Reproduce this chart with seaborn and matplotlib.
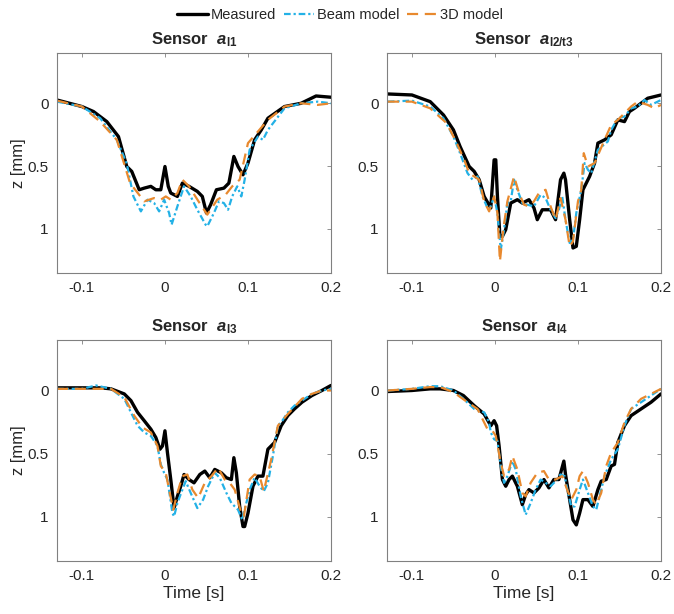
import matplotlib
matplotlib.use("Agg")
import matplotlib.pyplot as plt
import seaborn as sns

# ── Sensor l1 ────────────────────────────────────────────────────────────────
l1_meas_t = [-0.130, -0.100, -0.086, -0.070, -0.056, -0.046, -0.040, -0.031, -0.025, -0.017,
             -0.011, -0.005, 0.000, 0.004, 0.007, 0.015, 0.021, 0.029, 0.039, 0.045,
             0.050, 0.055, 0.062, 0.071, 0.077, 0.083, 0.088, 0.094, 0.100, 0.108,
             0.116, 0.124, 0.144, 0.164, 0.182, 0.200]
l1_meas_z = [-0.026, 0.026, 0.066, 0.146, 0.265, 0.503, 0.542, 0.688, 0.675, 0.661,
             0.688, 0.688, 0.503, 0.661, 0.714, 0.741, 0.635, 0.661, 0.701, 0.741,
             0.873, 0.807, 0.688, 0.675, 0.635, 0.423, 0.503, 0.569, 0.476, 0.291,
             0.212, 0.119, 0.026, 0.000, -0.058, -0.048]
l1_beam_t = [-0.130, -0.100, -0.078, -0.058, -0.046, -0.038, -0.029, -0.021, -0.013, -0.007,
             -0.001, 0.005, 0.008, 0.015, 0.023, 0.031, 0.039, 0.049, 0.051, 0.059,
             0.065, 0.071, 0.076, 0.081, 0.087, 0.092, 0.096, 0.102, 0.112, 0.118,
             0.124, 0.144, 0.164, 0.184, 0.200]
l1_beam_z = [-0.013, 0.026, 0.119, 0.291, 0.480, 0.741, 0.860, 0.767, 0.794, 0.860,
             0.767, 0.873, 0.966, 0.820, 0.661, 0.741, 0.847, 0.966, 0.979, 0.873,
             0.780, 0.794, 0.847, 0.741, 0.661, 0.741, 0.608, 0.370, 0.265, 0.291,
             0.212, 0.040, 0.000, -0.013, 0.000]
l1_3d_t = [-0.130, -0.100, -0.078, -0.058, -0.042, -0.025, -0.013, -0.005, 0.001, 0.007,
           0.015, 0.021, 0.029, 0.043, 0.051, 0.063, 0.073, 0.081, 0.090, 0.100,
           0.112, 0.124, 0.144, 0.164, 0.184, 0.200]
l1_3d_z = [-0.021, 0.026, 0.146, 0.291, 0.635, 0.780, 0.754, 0.767, 0.741, 0.767,
           0.714, 0.608, 0.661, 0.807, 0.886, 0.767, 0.728, 0.661, 0.608, 0.317,
           0.225, 0.132, 0.026, 0.000, 0.013, 0.000]

# ── Sensor l2/t3 ─────────────────────────────────────────────────────────────
l2_meas_t = [-0.129, -0.100, -0.078, -0.062, -0.050, -0.042, -0.031, -0.025, -0.019, -0.013,
             -0.005, -0.001, 0.001, 0.003, 0.006, 0.009, 0.013, 0.019, 0.027, 0.033,
             0.041, 0.047, 0.051, 0.057, 0.067, 0.073, 0.079, 0.083, 0.085, 0.090,
             0.094, 0.098, 0.102, 0.106, 0.114, 0.120, 0.124, 0.132, 0.140, 0.148,
             0.156, 0.162, 0.168, 0.176, 0.184, 0.200]
l2_meas_z = [-0.074, -0.066, -0.013, 0.093, 0.212, 0.344, 0.503, 0.542, 0.608, 0.741,
             0.833, 0.450, 0.450, 0.741, 1.058, 1.058, 1.005, 0.794, 0.767, 0.794,
             0.767, 0.833, 0.926, 0.847, 0.847, 0.926, 0.608, 0.556, 0.608, 0.926,
             1.151, 1.138, 0.926, 0.688, 0.582, 0.476, 0.317, 0.291, 0.251, 0.132,
             0.146, 0.066, 0.040, 0.000, -0.040, -0.066]
l2_beam_t = [-0.129, -0.100, -0.078, -0.062, -0.050, -0.042, -0.033, -0.027, -0.021, -0.015,
             -0.009, -0.005, -0.001, 0.003, 0.007, 0.011, 0.015, 0.019, 0.023, 0.027,
             0.033, 0.039, 0.047, 0.055, 0.061, 0.067, 0.073, 0.077, 0.081, 0.085,
             0.090, 0.094, 0.098, 0.104, 0.108, 0.112, 0.116, 0.124, 0.136, 0.140,
             0.148, 0.156, 0.164, 0.172, 0.180, 0.188, 0.200]
l2_beam_z = [-0.013, -0.021, 0.026, 0.119, 0.265, 0.397, 0.556, 0.608, 0.582, 0.741,
             0.833, 0.820, 0.741, 0.873, 1.164, 1.005, 0.794, 0.780, 0.608, 0.688,
             0.794, 0.807, 0.820, 0.728, 0.754, 0.847, 0.913, 0.847, 0.741, 0.926,
             1.111, 1.085, 0.873, 0.688, 0.476, 0.529, 0.556, 0.370, 0.304, 0.212,
             0.119, 0.106, 0.040, 0.026, -0.026, 0.013, -0.026]
l2_3d_t = [-0.129, -0.100, -0.078, -0.058, -0.046, -0.037, -0.031, -0.025, -0.019, -0.013,
           -0.007, -0.001, 0.003, 0.006, 0.010, 0.015, 0.023, 0.029, 0.035, 0.041,
           0.047, 0.053, 0.061, 0.067, 0.073, 0.079, 0.085, 0.090, 0.094, 0.100,
           0.104, 0.107, 0.112, 0.120, 0.132, 0.140, 0.148, 0.156, 0.164, 0.172,
           0.184, 0.192, 0.200]
l2_3d_z = [-0.013, -0.013, 0.040, 0.159, 0.317, 0.450, 0.556, 0.582, 0.608, 0.780,
           0.860, 0.741, 0.873, 1.257, 1.005, 0.780, 0.582, 0.714, 0.807, 0.820,
           0.780, 0.714, 0.688, 0.820, 0.926, 0.754, 0.926, 1.138, 1.098, 0.780,
           0.688, 0.397, 0.503, 0.476, 0.291, 0.172, 0.132, 0.080, 0.026, -0.013,
           0.013, 0.040, 0.013]

# ── Sensor l3 ────────────────────────────────────────────────────────────────
l3_meas_t = [-0.130, -0.100, -0.077, -0.065, -0.049, -0.041, -0.033, -0.025, -0.017, -0.011,
             -0.006, -0.003, 0.000, 0.003, 0.007, 0.011, 0.015, 0.019, 0.023, 0.029,
             0.035, 0.042, 0.048, 0.054, 0.060, 0.068, 0.074, 0.080, 0.083, 0.086,
             0.090, 0.094, 0.096, 0.100, 0.106, 0.112, 0.118, 0.124, 0.132, 0.140,
             0.148, 0.156, 0.165, 0.177, 0.189, 0.200]
l3_meas_z = [-0.021, -0.021, -0.021, -0.013, 0.027, 0.080, 0.173, 0.239, 0.306, 0.372,
             0.465, 0.439, 0.319, 0.492, 0.705, 0.931, 0.838, 0.758, 0.665, 0.705,
             0.731, 0.665, 0.638, 0.691, 0.625, 0.652, 0.691, 0.705, 0.532, 0.652,
             0.918, 1.077, 1.077, 0.971, 0.758, 0.678, 0.678, 0.465, 0.412, 0.279,
             0.199, 0.146, 0.093, 0.040, 0.000, -0.040]
l3_beam_t = [-0.130, -0.100, -0.083, -0.065, -0.049, -0.041, -0.033, -0.025, -0.017, -0.009,
             -0.005, -0.001, 0.003, 0.009, 0.011, 0.015, 0.021, 0.025, 0.031, 0.039,
             0.046, 0.052, 0.060, 0.066, 0.074, 0.080, 0.088, 0.093, 0.096, 0.102,
             0.108, 0.114, 0.119, 0.124, 0.130, 0.136, 0.140, 0.148, 0.156, 0.165,
             0.177, 0.189, 0.200]
l3_beam_z = [-0.013, -0.013, -0.040, -0.013, 0.066, 0.173, 0.279, 0.332, 0.359, 0.439,
             0.585, 0.652, 0.705, 0.971, 0.997, 0.891, 0.785, 0.718, 0.811, 0.931,
             0.864, 0.758, 0.652, 0.691, 0.811, 0.891, 0.944, 1.024, 0.944, 0.785,
             0.691, 0.758, 0.798, 0.731, 0.519, 0.279, 0.253, 0.173, 0.120, 0.080,
             0.027, 0.000, -0.013]
l3_3d_t = [-0.130, -0.100, -0.077, -0.065, -0.049, -0.037, -0.027, -0.017, -0.009, -0.005,
           0.001, 0.005, 0.010, 0.015, 0.021, 0.027, 0.033, 0.040, 0.048, 0.056,
           0.064, 0.072, 0.078, 0.084, 0.092, 0.095, 0.102, 0.108, 0.114, 0.119,
           0.128, 0.136, 0.148, 0.165, 0.177, 0.189, 0.200]
l3_3d_z = [-0.013, -0.013, -0.013, -0.013, 0.053, 0.199, 0.293, 0.332, 0.439, 0.598,
           0.652, 0.785, 0.944, 0.811, 0.678, 0.665, 0.785, 0.851, 0.731, 0.678,
           0.612, 0.705, 0.731, 0.785, 0.971, 0.998, 0.705, 0.665, 0.678, 0.798,
           0.545, 0.279, 0.186, 0.066, 0.027, 0.000, 0.000]

# ── Sensor l4 ────────────────────────────────────────────────────────────────
l4_meas_t = [-0.129, -0.100, -0.078, -0.066, -0.050, -0.038, -0.025, -0.013, -0.005, -0.001,
             0.002, 0.005, 0.009, 0.013, 0.017, 0.021, 0.027, 0.033, 0.037, 0.041,
             0.047, 0.053, 0.059, 0.065, 0.071, 0.077, 0.083, 0.085, 0.090, 0.094,
             0.098, 0.102, 0.106, 0.112, 0.118, 0.124, 0.128, 0.134, 0.140, 0.144,
             0.148, 0.156, 0.164, 0.176, 0.188, 0.200]
l4_meas_z = [0.008, 0.000, -0.013, -0.013, 0.000, 0.040, 0.120, 0.186, 0.279, 0.239,
             0.279, 0.439, 0.705, 0.758, 0.705, 0.678, 0.758, 0.904, 0.824, 0.785,
             0.811, 0.771, 0.705, 0.771, 0.705, 0.705, 0.559, 0.665, 0.864, 1.024,
             1.064, 0.971, 0.864, 0.864, 0.918, 0.785, 0.718, 0.705, 0.598, 0.585,
             0.412, 0.279, 0.199, 0.146, 0.093, 0.027]
l4_beam_t = [-0.129, -0.100, -0.078, -0.066, -0.050, -0.038, -0.025, -0.013, -0.007, -0.005,
             -0.001, 0.003, 0.007, 0.011, 0.015, 0.021, 0.025, 0.031, 0.037, 0.043,
             0.049, 0.055, 0.061, 0.067, 0.073, 0.079, 0.084, 0.088, 0.092, 0.096,
             0.102, 0.106, 0.112, 0.118, 0.122, 0.126, 0.132, 0.140, 0.148, 0.156,
             0.164, 0.176, 0.188, 0.200]
l4_beam_z = [0.000, -0.013, -0.034, -0.034, 0.000, 0.066, 0.146, 0.173, 0.253, 0.332,
             0.386, 0.399, 0.598, 0.731, 0.678, 0.559, 0.625, 0.838, 0.984, 0.891,
             0.785, 0.705, 0.731, 0.758, 0.718, 0.665, 0.678, 0.811, 0.918, 0.918,
             0.785, 0.705, 0.811, 0.918, 0.944, 0.838, 0.678, 0.545, 0.465, 0.279,
             0.146, 0.093, 0.040, -0.013]
l4_3d_t = [-0.129, -0.100, -0.078, -0.066, -0.050, -0.033, -0.021, -0.009, -0.003, 0.001,
           0.007, 0.011, 0.017, 0.021, 0.027, 0.033, 0.037, 0.043, 0.051, 0.059,
           0.065, 0.073, 0.081, 0.087, 0.092, 0.098, 0.102, 0.106, 0.112, 0.118,
           0.122, 0.128, 0.134, 0.140, 0.148, 0.156, 0.164, 0.176, 0.188, 0.200]
l4_3d_z = [0.000, -0.013, -0.027, -0.027, 0.013, 0.093, 0.146, 0.306, 0.319, 0.359,
           0.572, 0.678, 0.625, 0.519, 0.625, 0.811, 0.838, 0.731, 0.652, 0.638,
           0.705, 0.705, 0.678, 0.785, 0.864, 0.785, 0.678, 0.638, 0.731, 0.864,
           0.904, 0.811, 0.598, 0.492, 0.412, 0.253, 0.146, 0.066, 0.027, -0.013]

sensor_titles = [r"Sensor  $\mathbfit{a}_{\mathbf{l1}}$",
                 r"Sensor  $\mathbfit{a}_{\mathbf{l2/t3}}$",
                 r"Sensor  $\mathbfit{a}_{\mathbf{l3}}$",
                 r"Sensor  $\mathbfit{a}_{\mathbf{l4}}$"]
series_labels = ["Measured", "Beam model", "3D model"]
x_ticks = [-0.1, 0, 0.1, 0.2]
x_ticklabels = ["-0.1", "0", "0.1", "0.2"]
y_ticks = [0, 0.5, 1]
y_ticklabels = ["0", "0.5", "1"]

panels = [
    (l1_meas_t, l1_meas_z, l1_beam_t, l1_beam_z, l1_3d_t, l1_3d_z),
    (l2_meas_t, l2_meas_z, l2_beam_t, l2_beam_z, l2_3d_t, l2_3d_z),
    (l3_meas_t, l3_meas_z, l3_beam_t, l3_beam_z, l3_3d_t, l3_3d_z),
    (l4_meas_t, l4_meas_z, l4_beam_t, l4_beam_z, l4_3d_t, l4_3d_z),
]

sns.set_style("white")
plt.rcParams["font.family"] = ["Liberation Sans", "DejaVu Sans"]
plt.rcParams["mathtext.fontset"] = "custom"
plt.rcParams["mathtext.rm"] = "Liberation Sans"
plt.rcParams["mathtext.bf"] = "Liberation Sans:bold"
plt.rcParams["mathtext.it"] = "Liberation Sans:italic"
plt.rcParams["mathtext.bfit"] = "Liberation Sans:bold:italic"
plt.rcParams["axes.unicode_minus"] = False

BLACK = "black"
BLUE = "#23B1E6"
ORANGE = "#E8892E"
GREY_TXT = "#262626"

fig = plt.figure(figsize=(6.74, 6.14), dpi=100)

# axes boxes [left, bottom, width, height] in figure fraction
positions = [
    [0.0846, 0.5554, 0.4065, 0.3583],
    [0.5742, 0.5554, 0.4065, 0.3583],
    [0.0846, 0.0863, 0.4065, 0.3600],
    [0.5742, 0.0863, 0.4065, 0.3600],
]

handles = []
for i, (pos, data, title) in enumerate(zip(positions, panels, sensor_titles)):
    ax = fig.add_axes(pos)
    mt, mz, bt, bz, dt, dz = data
    sns.lineplot(x=mt, y=mz, ax=ax, color=BLACK, lw=2.4, sort=False,
                 estimator=None, label=series_labels[0], legend=False)
    sns.lineplot(x=bt, y=bz, ax=ax, color=BLUE, lw=1.6, sort=False,
                 estimator=None, label=series_labels[1], legend=False,
                 linestyle=(0, (3, 1.3, 1, 1.3)))
    sns.lineplot(x=dt, y=dz, ax=ax, color=ORANGE, lw=1.6, sort=False,
                 estimator=None, label=series_labels[2], legend=False,
                 linestyle=(0, (5, 3)))
    ax.set_xlim(-0.13, 0.2)
    ax.set_ylim(1.35, -0.4)
    ax.set_xticks(x_ticks)
    ax.set_xticklabels(x_ticklabels)
    ax.set_yticks(y_ticks)
    ax.set_yticklabels(y_ticklabels)
    ax.tick_params(direction="in", top=True, right=True, length=3, width=0.6,
                   color="#808080", labelsize=11, labelcolor=GREY_TXT, pad=6)
    for sp in ax.spines.values():
        sp.set_color("#808080")
        sp.set_linewidth(0.8)
    ax.set_title(title, fontsize=12, fontweight="bold", pad=6)
    if i % 2 == 0:
        ax.set_ylabel("z [mm]", fontsize=12, color=GREY_TXT, labelpad=1)
    else:
        ax.set_ylabel("")
    if i >= 2:
        ax.set_xlabel("Time [s]", fontsize=12.5, color=GREY_TXT, labelpad=2)
    else:
        ax.set_xlabel("")
    if i == 0:
        handles = ax.get_lines()[:3]

fig.legend(handles, series_labels, loc="center", bbox_to_anchor=(0.505, 0.975),
           ncol=3, frameon=False, fontsize=10.5, handlelength=2.1,
           handletextpad=0.2, columnspacing=0.5, borderpad=0)

fig.savefig("out.png", dpi=100)
